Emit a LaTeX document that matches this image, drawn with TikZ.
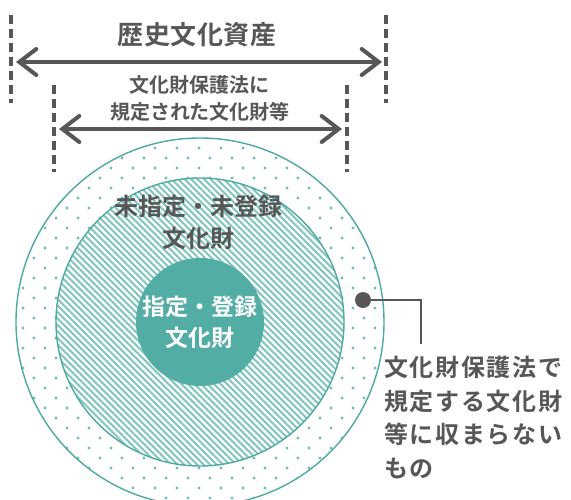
\documentclass[tikz,border=0pt]{standalone}
\usepackage{fontspec}
\newfontfamily\jp{Noto Sans CJK JP}[BoldFont={Noto Sans CJK JP Bold}]
\usetikzlibrary{arrows.meta}
\definecolor{teal1}{HTML}{52ADA5}
\definecolor{tealline}{HTML}{4DA9A1}
\definecolor{hatchc}{HTML}{80C6BF}
\definecolor{dotc}{HTML}{6CBDB5}
\definecolor{txt}{HTML}{575757}
\tikzset{
  lbl/.style={font=\jp\bfseries, text=txt, inner sep=0pt, align=center},
  dimline/.style={draw=txt, line width=4pt, dash pattern=on 9pt off 5pt},
  dimarrow/.style={draw=txt, line width=4pt, {Straight Barb[length=17pt,width=26pt,line width=4pt,line cap=round]}-{Straight Barb[length=17pt,width=26pt,line width=4pt,line cap=round]}},
  ring/.style={draw=tealline, line width=1.4pt},
}
\begin{document}
\begin{tikzpicture}[x=1pt,y=-1pt]
\useasboundingbox (0,0) rectangle (571,499);
% circles geometry
\coordinate (c) at (200,322);
% outer ring with dots
\begin{scope}
  \clip (c) circle[radius=184];
  \foreach \j in {0,...,37}{
    \pgfmathsetmacro{\yy}{138+10*\j}
    \pgfmathsetmacro{\off}{mod(\j,2)*11}
    \foreach \i in {0,...,17}{
      \fill[dotc] ({12+\off+22*\i},\yy) circle[radius=1.7];
    }
  }
\end{scope}
\draw[ring] (c) circle[radius=184];
% middle ring with hatch
\fill[white] (c) circle[radius=144];
\begin{scope}
  \clip (c) circle[radius=144];
  \foreach \k in {0,...,100}{
    \draw[hatchc, line width=2.1pt] ({-260+6.5*\k},170) -- ({40+6.5*\k},470);
  }
\end{scope}
\draw[ring] (c) circle[radius=144];
% inner filled circle
\fill[teal1] (c) circle[radius=64];

% texts in circles
\node[lbl, font=\jp\bfseries\fontsize{24}{32}\selectfont] (mishitei) at (198,222) {未指定・未登録\\文化財};
\node[lbl, text=white, font=\jp\bfseries\fontsize{23}{31}\selectfont] (shitei) at (200,322) {指定・登録\\文化財};

% top dimension
\node[lbl, font=\jp\bfseries\fontsize{26}{30}\selectfont\addfontfeature{LetterSpace=2}] (rekishi) at (197,35) {歴史文化資産};
\coordinate (l1t) at (11,15); \coordinate (l1b) at (11,103);
\coordinate (r1t) at (386,15); \coordinate (r1b) at (386,103);
\draw[dimline] (l1t) -- (l1b);
\draw[dimline] (r1t) -- (r1b);
\coordinate (a1l) at (16,62); \coordinate (a1r) at (382,62);
\draw[dimarrow] (a1l) -- (a1r);

% second dimension
\node[lbl, font=\jp\bfseries\fontsize{20}{27}\selectfont] (hogo) at (200,98) {文化財保護法に\\規定された文化財等};
\coordinate (l2t) at (54,85); \coordinate (l2b) at (54,172);
\coordinate (r2t) at (347,85); \coordinate (r2b) at (347,172);
\draw[dimline] (l2t) -- (l2b);
\draw[dimline] (r2t) -- (r2b);
\coordinate (a2l) at (59,129); \coordinate (a2r) at (342,129);
\draw[dimarrow] (a2l) -- (a2r);

% callout
\fill[txt] (363,300) circle[radius=8] coordinate (dot);
\coordinate (bend) at (421,300);
\coordinate (cend) at (421,344);
\draw[txt, line width=2.5pt] (dot) -- (bend) -- (cend);
\node[lbl, anchor=north west, align=left, font=\jp\bfseries\fontsize{24}{33.5}\selectfont\addfontfeature{LetterSpace=7}] (call) at (384,356) {文化財保護法で\\規定する文化財\\等に収まらない\\もの};
\end{tikzpicture}
\end{document}
